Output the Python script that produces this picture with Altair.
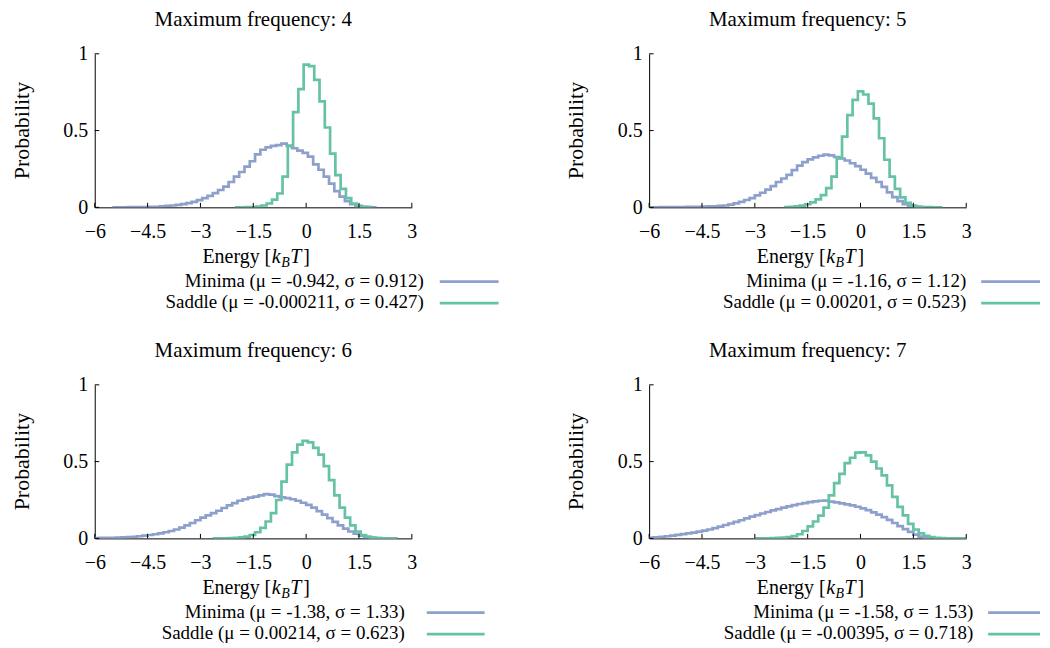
import altair as alt
import pandas as pd

W, H = 318, 154
BLUE = "#8da0cb"
GREEN = "#66c2a5"
FONT = "Liberation Serif"

energy_ticks = [-6, -4.5, -3, -1.5, 0, 1.5, 3]
prob_ticks = [0, 0.5, 1]
bin_width = 0.15

panel_titles = ["Maximum frequency: 4", "Maximum frequency: 5",
                "Maximum frequency: 6", "Maximum frequency: 7"]
minima_labels = ["Minima (μ = -0.942, σ = 0.912)", "Minima (μ = -1.16, σ = 1.12)",
                 "Minima (μ = -1.38, σ = 1.33)", "Minima (μ = -1.58, σ = 1.53)"]
saddle_labels = ["Saddle (μ = -0.000211, σ = 0.427)", "Saddle (μ = 0.00201, σ = 0.523)",
                 "Saddle (μ = 0.00214, σ = 0.623)", "Saddle (μ = -0.00395, σ = 0.718)"]

# left edge of the first histogram bin of each series
minima_start = [-5.5, -6.3, -6.6, -6.75]
saddle_start = [-2.02, -2.175, -2.65, -3.0]

minima_f4 = [0, 0, 0.0005, 0.001, 0.001, 0.002, 0.002, 0.003, 0.004, 0.006,
             0.009, 0.012, 0.016, 0.021, 0.027, 0.036, 0.047, 0.060, 0.075, 0.093,
             0.113, 0.135, 0.165, 0.20, 0.23, 0.265, 0.30, 0.345, 0.375, 0.39,
             0.40, 0.405, 0.415, 0.40, 0.385, 0.37, 0.355, 0.33, 0.28, 0.245,
             0.20, 0.155, 0.105, 0.07, 0.04, 0.02, 0.008, 0.004, 0.001, 0.0005]
saddle_f4 = [0, 0.0005, 0.001, 0.002, 0.005, 0.012, 0.025, 0.05, 0.09, 0.2,
             0.4, 0.62, 0.77, 0.93, 0.92, 0.83, 0.69, 0.52, 0.35, 0.21,
             0.12, 0.06, 0.025, 0.01, 0.003, 0.001]

minima_f5 = [0, 0, 0.0005, 0.0005, 0.001, 0.001, 0.0015, 0.002, 0.002, 0.003,
             0.004, 0.004, 0.005, 0.006, 0.007, 0.009, 0.012, 0.018, 0.026, 0.036,
             0.048, 0.060, 0.078, 0.095, 0.115, 0.138, 0.165, 0.188, 0.212, 0.242,
             0.272, 0.295, 0.312, 0.326, 0.336, 0.343, 0.338, 0.328, 0.318, 0.305,
             0.287, 0.268, 0.245, 0.22, 0.192, 0.165, 0.133, 0.098, 0.066, 0.04,
             0.02, 0.009, 0.004, 0.001]
saddle_f5 = [0.001, 0.003, 0.006, 0.011, 0.02, 0.032, 0.052, 0.08, 0.125, 0.2,
             0.32, 0.46, 0.6, 0.7, 0.755, 0.735, 0.675, 0.58, 0.45, 0.31,
             0.2, 0.12, 0.065, 0.03, 0.012, 0.005, 0.002, 0.001, 0.0005, 0.0]

minima_f6 = [0.001, 0.001, 0.0015, 0.002, 0.002, 0.003, 0.003, 0.004, 0.005, 0.006,
             0.008, 0.01, 0.014, 0.018, 0.022, 0.027, 0.033, 0.04, 0.048, 0.058,
             0.07, 0.085, 0.1, 0.118, 0.135, 0.15, 0.165, 0.18, 0.198, 0.215,
             0.23, 0.245, 0.255, 0.265, 0.272, 0.28, 0.288, 0.285, 0.275, 0.268,
             0.262, 0.255, 0.245, 0.232, 0.218, 0.2, 0.178, 0.155, 0.132, 0.108,
             0.085, 0.064, 0.045, 0.03, 0.018, 0.01, 0.005, 0.0025, 0.001, 0.0005,
             0.0002]
saddle_f6 = [0.0, 0.0005, 0.001, 0.002, 0.003, 0.006, 0.012, 0.022, 0.04, 0.068,
             0.11, 0.165, 0.25, 0.37, 0.48, 0.56, 0.61, 0.635, 0.625, 0.59,
             0.545, 0.47, 0.38, 0.28, 0.2, 0.135, 0.085, 0.045, 0.022, 0.01,
             0.004, 0.002, 0.001, 0.0005, 0.0]

minima_f7 = [0.001, 0.0015, 0.002, 0.003, 0.004, 0.005, 0.007, 0.01, 0.014, 0.018,
             0.023, 0.028, 0.033, 0.038, 0.044, 0.05, 0.058, 0.067, 0.077, 0.087,
             0.097, 0.107, 0.118, 0.13, 0.142, 0.152, 0.162, 0.172, 0.182, 0.19,
             0.2, 0.208, 0.216, 0.224, 0.23, 0.236, 0.241, 0.245, 0.246, 0.24,
             0.234, 0.228, 0.222, 0.215, 0.206, 0.196, 0.184, 0.17, 0.155, 0.138,
             0.12, 0.1, 0.08, 0.06, 0.042, 0.025, 0.012, 0.004]
saddle_f7 = [0.0, 0.0005, 0.001, 0.002, 0.003, 0.005, 0.009, 0.015, 0.027, 0.048,
             0.078, 0.11, 0.148, 0.2, 0.28, 0.36, 0.42, 0.49, 0.525, 0.558,
             0.56, 0.54, 0.5, 0.455, 0.41, 0.345, 0.27, 0.205, 0.15, 0.095,
             0.058, 0.032, 0.016, 0.008, 0.004, 0.002, 0.001, 0.0005, 0.0002, 0.0]

minima_all = [minima_f4, minima_f5, minima_f6, minima_f7]
saddle_all = [saddle_f4, saddle_f5, saddle_f6, saddle_f7]

# legend placement (pixels relative to plot area) per panel
legend_text_end = [330, 318, 311, 325]
legend_line = [(346, 405), (333, 392), (333, 391), (340, 392)]


def steps(start, vals, name):
    e = [round(start + i * bin_width, 4) for i in range(len(vals) + 1)]
    p = list(vals) + [vals[-1]]
    return pd.DataFrame({"E": e, "p": p, "series": name})


one = pd.DataFrame({"a": [0]})


def txt(s, x, y, size=19, align="left", baseline="alphabetic", style="normal", angle=0):
    return alt.Chart(one).mark_text(
        text=s, font=FONT, fontSize=size, align=align, baseline=baseline,
        fontStyle=style, angle=angle, color="black"
    ).encode(x=alt.value(x), y=alt.value(y))


def key_line(color, x1, x2, y):
    return alt.Chart(one).mark_rule(color=color, strokeWidth=2.7).encode(
        x=alt.value(x1), x2=alt.value(x2), y=alt.value(y))


xscale = alt.Scale(domain=[-6, 3], nice=False, zero=False)
yscale = alt.Scale(domain=[0, 1], nice=False, zero=False)
xaxis = alt.Axis(values=energy_ticks, format=".1~f", title=None, labelPadding=14,
                 labelFlush=False, labelOverlap=False)
yaxis = alt.Axis(values=prob_ticks, format=".1~f", title=None, labelPadding=7,
                 labelFlush=False, labelOverlap=False)


def panel(k):
    df = pd.concat([steps(minima_start[k], minima_all[k], "Minima"),
                    steps(saddle_start[k], saddle_all[k], "Saddle")], ignore_index=True)
    lines = alt.Chart(df).mark_line(
        interpolate="step-after", clip=True, strokeWidth=2.7, strokeJoin="miter"
    ).encode(
        x=alt.X("E:Q", scale=xscale, axis=xaxis),
        y=alt.Y("p:Q", scale=yscale, axis=yaxis),
        color=alt.Color("series:N", scale=alt.Scale(domain=["Minima", "Saddle"],
                                                    range=[BLUE, GREEN]), legend=None),
    )
    xt = alt.Chart(pd.DataFrame({"E": energy_ticks})).mark_rule(
        color="black", strokeWidth=1).encode(
        x=alt.X("E:Q", scale=xscale, axis=xaxis), y=alt.value(H), y2=alt.value(H - 4.5))
    yt = alt.Chart(pd.DataFrame({"p": prob_ticks})).mark_rule(
        color="black", strokeWidth=1).encode(
        y=alt.Y("p:Q", scale=yscale, axis=yaxis), x=alt.value(0), x2=alt.value(4.5))

    xk = 177
    texts = [
        txt(panel_titles[k], W / 2, -28, size=21, align="center"),
        txt("Probability", -73, H / 2, size=22, align="center", baseline="middle", angle=270),
        txt("Energy [", xk, H + 56, size=20, align="right"),
        txt("k", xk + 0.5, H + 56, size=20, style="italic"),
        txt("B", xk + 10, H + 60, size=14, style="italic"),
        txt("T", xk + 19, H + 56, size=20, style="italic"),
        txt("]", xk + 32, H + 56, size=20),
        txt(minima_labels[k], legend_text_end[k], H + 80, size=19, align="right"),
        txt(saddle_labels[k], legend_text_end[k], H + 101, size=19, align="right"),
        key_line(BLUE, legend_line[k][0], legend_line[k][1], H + 74.5),
        key_line(GREEN, legend_line[k][0], legend_line[k][1], H + 96),
    ]
    return alt.layer(lines, xt, yt, *texts).properties(width=W, height=H)


panels = [panel(k) for k in range(4)]

chart = alt.concat(
    *panels, columns=2, spacing={"row": 178, "column": 238}, bounds="flush"
).properties(
    padding={"left": 3, "top": 0, "right": 0, "bottom": 0}
).configure_view(stroke=None).configure_axis(
    labelFont=FONT, labelFontSize=20, labelColor="black",
    domainColor="black", domainWidth=1, grid=False, ticks=False, tickSize=0
)

chart.save("out.html", embed_options={"renderer": "svg", "actions": False})
